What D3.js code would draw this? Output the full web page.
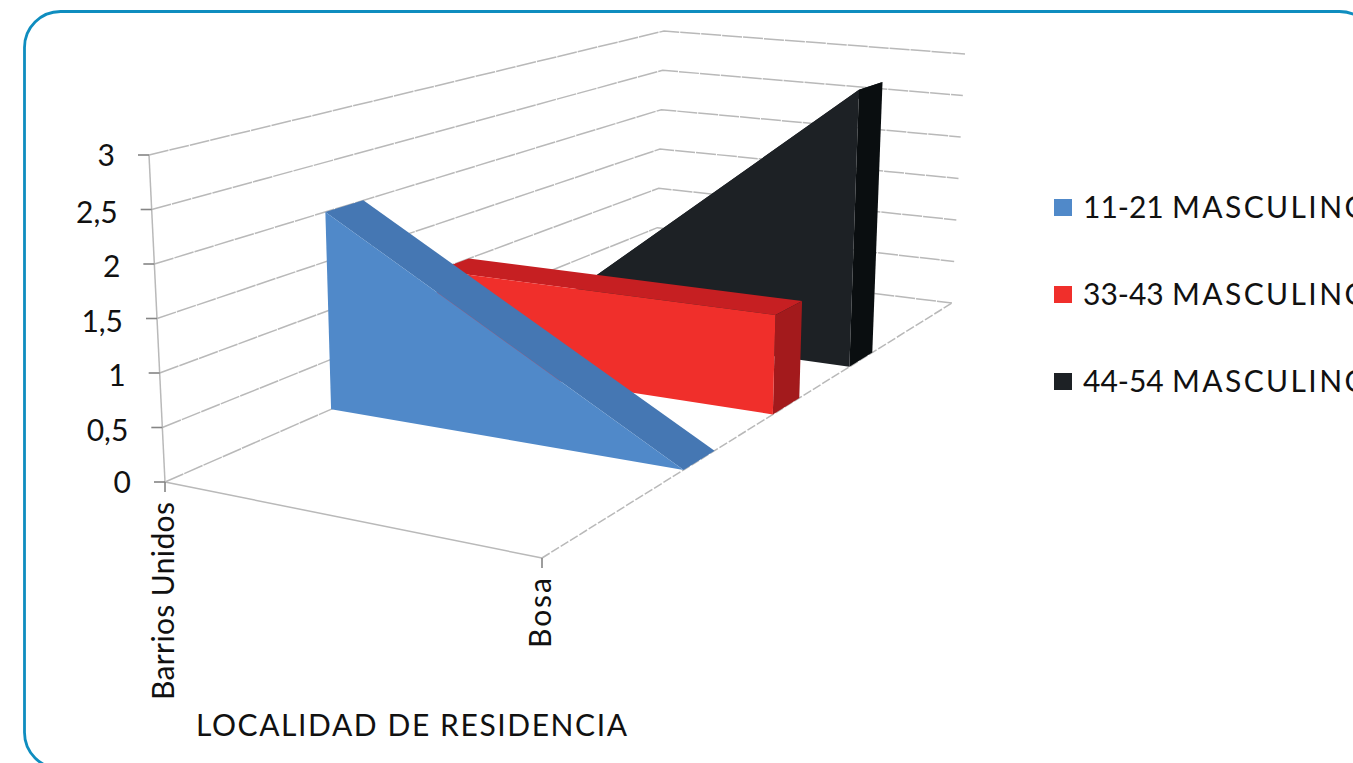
<!DOCTYPE html>
<html>
<head>
<meta charset="utf-8">
<script src="https://cdn.jsdelivr.net/npm/d3@7"></script>
<style>
  html, body { margin: 0; padding: 0; background: #fff; overflow: hidden; }
  text { font-family: "Lato", "Open Sans", sans-serif; fill: #111; }
</style>
</head>
<body>
<div id="wrapper"></div>
<script>
// data
const categories = ["Barrios Unidos", "Bosa"]
const categoryLabelLengths = [198, 70]
const seriesNames = ["11-21 MASCULINO", "33-43 MASCULINO", "44-54 MASCULINO"]
const values1121 = [2, 0]
const values3343 = [1, 1]
const values4454 = [0, 3]
const valueTicks = [0, 0.5, 1, 1.5, 2, 2.5, 3]
const valueTickLabels = ["0", "0,5", "1", "1,5", "2", "2,5", "3"]
const axisTitle = "LOCALIDAD DE RESIDENCIA"

const allValues = [values1121, values3343, values4454]

const frontColors = ["#5089c9", "#f02f2b", "#1d2125"]
const topColors = ["#4577b3", "#c61f22", "#1d2125"]
const sideColors = ["#4577b3", "#a31a1c", "#0a0e10"]

const width = 1353
const height = 763

const svg = d3.select("#wrapper")
    .append("svg")
    .attr("width", width)
    .attr("height", height)

// outer rounded frame, runs off the right and bottom of the page
svg.append("rect")
    .attr("x", 24.5)
    .attr("y", 11.5)
    .attr("width", 1351)
    .attr("height", 757)
    .attr("rx", 36)
    .attr("fill", "none")
    .attr("stroke", "#0f8dbf")
    .attr("stroke-width", 2.8)

// 1. the 3d box: unit square -> screen quad
function quadMap(p00, p10, p11, p01) {
    const dx1 = p10[0] - p11[0], dy1 = p10[1] - p11[1]
    const dx2 = p01[0] - p11[0], dy2 = p01[1] - p11[1]
    const sx = p00[0] - p10[0] + p11[0] - p01[0]
    const sy = p00[1] - p10[1] + p11[1] - p01[1]
    const det = dx1 * dy2 - dy1 * dx2
    const g = (sx * dy2 - sy * dx2) / det
    const h = (dx1 * sy - dy1 * sx) / det
    const a = p10[0] - p00[0] + g * p10[0]
    const b = p01[0] - p00[0] + h * p01[0]
    const d = p10[1] - p00[1] + g * p10[1]
    const e = p01[1] - p00[1] + h * p01[1]
    return (u, w) => {
        const q = g * u + h * w + 1
        return [(a * u + b * w + p00[0]) / q, (d * u + e * w + p00[1]) / q]
    }
}

const floorMap = quadMap([165, 482], [542, 558], [952, 303], [656, 267])
const roofMap = quadMap([149, 155], [548, 195], [965, 54], [664, 31])

// 2. scales
const uScale = d3.scalePoint().domain(categories).range([0, 1])
const vScale = d3.scaleLinear().domain([0, 3]).range([0, 1])
const depthScale = d3.scaleLinear().domain([0, 2]).range([0.266, 0.673])
const bandDepth = 0.067

const project = (u, value, w) => {
    const f = floorMap(u, w)
    const t = roofMap(u, w)
    const v = vScale(value)
    return [f[0] + (t[0] - f[0]) * v, f[1] + (t[1] - f[1]) * v]
}

const line = d3.line()
const poly = pts => line(pts) + "Z"

// 3. walls and gridlines
const grid = svg.append("g")
    .attr("fill", "none")
    .attr("stroke", "#b9b9b9")
    .attr("stroke-width", 1.5)

valueTicks.forEach(t => {
    grid.append("path")
        .attr("stroke-dasharray", "20 1")
        .attr("d", line([project(0, t, 0), project(0, t, 1), project(1, t, 1)]))
})
grid.append("path").attr("d", line([project(0, 0, 0), project(0, 3, 0)]))
grid.append("path").attr("d", line([project(0, 0, 0), project(1, 0, 0)]))
grid.append("path")
    .attr("stroke-dasharray", "9 2")
    .attr("d", line([project(1, 0, 0), project(1, 0, 1)]))

// 4. series, back to front
d3.range(seriesNames.length).reverse().forEach(i => {
    const w0 = depthScale(i)
    const w1 = w0 + bandDepth
    const vals = allValues[i]
    const g = svg.append("g")

    g.append("path")
        .attr("fill", topColors[i])
        .attr("d", poly([
            project(0, vals[0], w0), project(1, vals[1], w0),
            project(1, vals[1], w1), project(0, vals[0], w1)
        ]))
    g.append("path")
        .attr("fill", sideColors[i])
        .attr("d", poly([
            project(1, 0, w0), project(1, vals[1], w0),
            project(1, vals[1], w1), project(1, 0, w1)
        ]))
    g.append("path")
        .attr("fill", frontColors[i])
        .attr("d", poly([
            project(0, 0, w0), project(0, vals[0], w0),
            project(1, vals[1], w0), project(1, 0, w0)
        ]))
})

// 5. axis ticks and labels
const ticks = svg.append("g")
    .attr("stroke", "#858585")
    .attr("stroke-width", 1.6)

valueTicks.forEach((t, i) => {
    const p = project(0, t, 0)
    ticks.append("line")
        .attr("x1", p[0] - 11).attr("x2", p[0])
        .attr("y1", p[1]).attr("y2", p[1])
    svg.append("text")
        .attr("x", p[0] - 34)
        .attr("y", p[1] + (t === 0 || t === 3 ? 0 : 2.5))
        .attr("dy", "0.36em")
        .attr("text-anchor", "end")
        .attr("font-size", 30)
        .text(valueTickLabels[i])
})

categories.forEach((c, i) => {
    const p = project(uScale(c), 0, 0)
    ticks.append("line")
        .attr("x1", p[0]).attr("x2", p[0])
        .attr("y1", p[1]).attr("y2", p[1] + 10)
    svg.append("text")
        .attr("transform", `translate(${p[0] + 9}, ${p[1] + 20}) rotate(-90)`)
        .attr("text-anchor", "end")
        .attr("font-size", 30)
        .attr("textLength", categoryLabelLengths[i])
        .text(c)
})

svg.append("text")
    .attr("x", 196)
    .attr("y", 736)
    .attr("font-size", 30)
    .attr("textLength", 431)
    .text(axisTitle)

// 6. legend
const legendY = d3.scalePoint().domain(seriesNames).range([218, 392])

seriesNames.forEach((name, i) => {
    svg.append("rect")
        .attr("x", 1054)
        .attr("y", legendY(name) - 19)
        .attr("width", 18)
        .attr("height", 17)
        .attr("fill", frontColors[i])
    const parts = name.split(" ")
    const label = svg.append("text")
        .attr("y", legendY(name))
        .attr("font-size", 30)
    label.append("tspan")
        .attr("x", 1083)
        .text(parts[0] + " ")
    label.append("tspan")
        .attr("x", 1172)
        .attr("letter-spacing", 2.4)
        .text(parts[1])
})
</script>
</body>
</html>
